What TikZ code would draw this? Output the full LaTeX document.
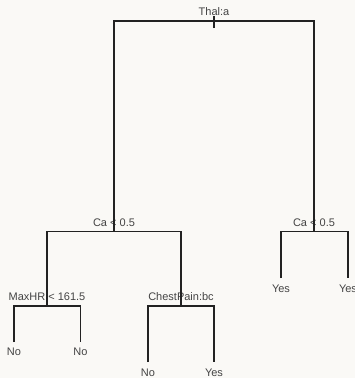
\documentclass[tikz,border=0pt]{standalone}
\usepackage{fontspec}
\setmainfont{Liberation Sans}
\definecolor{paper}{HTML}{FAF9F6}
\definecolor{ink}{HTML}{222222}
\definecolor{lbl}{HTML}{444444}
\tikzset{
    branch/.style = {draw=ink, line width=1.1pt},
    split/.style  = {text=lbl, font=\fontsize{11}{13}\selectfont, anchor=base, inner sep=0pt},
    leaf/.style   = {split}
}
\begin{document}
\begin{tikzpicture}[x=1pt, y=-1pt]
    \fill[paper] (0,0) rectangle (355,378);
    \useasboundingbox (0,0) rectangle (355,378);

    % split points
    \coordinate (root)  at (214, 21);
    \coordinate (caL)   at (114, 231.7);
    \coordinate (caR)   at (314, 231.7);
    \coordinate (maxhr) at (47, 306);
    \coordinate (chest) at (181, 306);

    % leaf ends
    \coordinate (l1) at (14, 342);
    \coordinate (l2) at (80.5, 342);
    \coordinate (l3) at (148, 362);
    \coordinate (l4) at (214, 362);
    \coordinate (l5) at (281, 278);
    \coordinate (l6) at (348, 278);

    % labels of the splits
    \node[split] (tThal)  at (214, 15)    {Thal:a};
    \node[split] (tCaL)   at (114, 226.5) {Ca < 0.5};
    \node[split] (tCaR)   at (314, 226.5) {Ca < 0.5};
    \node[split] (tMaxhr) at (47, 300.5)  {MaxHR < 161.5};
    \node[split] (tChest) at (181, 300.5) {ChestPain:bc};

    % leaves
    \node[leaf] (n1) at (14, 355)   {No};
    \node[leaf] (n2) at (80.5, 355) {No};
    \node[leaf] (n3) at (148, 376)  {No};
    \node[leaf] (n4) at (214, 376)  {Yes};
    \node[leaf] (n5) at (281, 292)  {Yes};
    \node[leaf] (n6) at (348, 292)  {Yes};

    % the branches
    \draw[branch] ([yshift=-7pt]root) -- ([yshift=5pt]root);
    \draw[branch] (caL) |- (root) -| (caR);
    \draw[branch] (maxhr) |- (caL) -| (chest);
    \draw[branch] (l5) |- (caR) -| (l6);
    \draw[branch] (l1) |- (maxhr) -| (l2);
    \draw[branch] (l3) |- (chest) -| (l4);

\end{tikzpicture}
\end{document}
